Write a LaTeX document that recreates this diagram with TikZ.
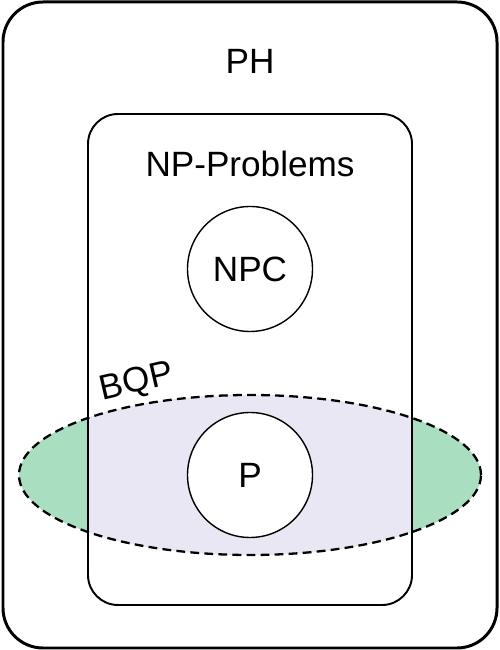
\documentclass[tikz,border=0pt]{standalone}
\usepackage{fontspec}
\setmainfont{Liberation Sans}
\definecolor{bqpgreen}{HTML}{A9DEC1}
\definecolor{bqplilac}{HTML}{E9E7F3}
\tikzset{
  classlabel/.style={font=\fontsize{20}{24}\selectfont,anchor=base,inner sep=0pt},
  classcirc/.style={circle,draw=black,line width=0.8pt,fill=white,
    minimum size=2.5cm,inner sep=0pt,font=\fontsize{20}{24}\selectfont},
  bqpshape/.style={x radius=4.62cm,y radius=1.6cm}
}

\begin{document}
\begin{tikzpicture}
  \useasboundingbox (0,0) rectangle (10,13);
  % outer class PH
  \path[draw=black,line width=1.7pt,rounded corners=0.8cm]
    (0.06,0.04) rectangle (9.94,12.96);
  % BQP fill, green outside NP, lilac inside
  \path[fill=bqpgreen] (5,3.5) ellipse [bqpshape];
  \begin{scope}
    \clip (5,3.5) ellipse [bqpshape];
    \path[fill=bqplilac,rounded corners=0.6cm] (1.76,0.9) rectangle (8.24,10.72);
  \end{scope}
  % NP box
  \path[draw=black,line width=1.1pt,rounded corners=0.6cm]
    (1.76,0.9) rectangle (8.24,10.72);
  % BQP border
  \path[draw=black,line width=1.3pt,dash pattern=on 5pt off 3pt]
    (5,3.5) ellipse [bqpshape];
  \node[classcirc] (npc) at (5,7.62) {NPC};
  \node[classcirc] (p) at (5,3.5) {P};
  \node[classlabel] (ph) at (5,11.52) {PH};
  \node[classlabel] (np) at (5,9.46) {NP-Problems};
  \node[font=\fontsize{20}{24}\selectfont,inner sep=0pt,rotate=13] (bqp) at (2.74,5.34) {BQP};
\end{tikzpicture}
\end{document}
